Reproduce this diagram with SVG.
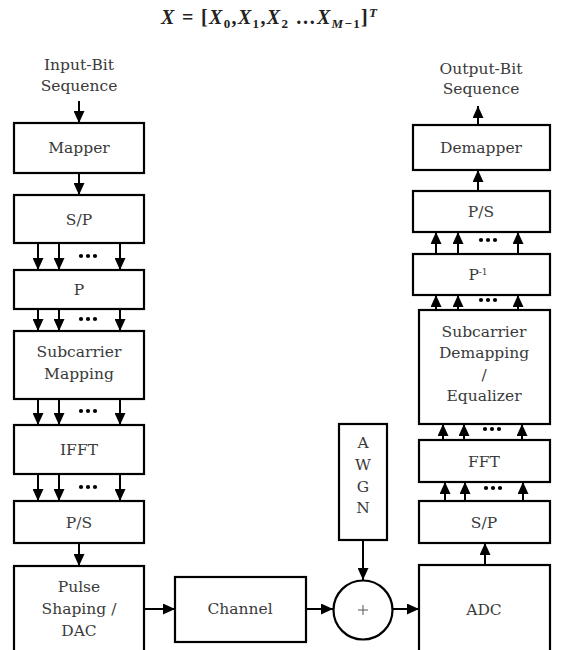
<svg xmlns="http://www.w3.org/2000/svg" width="568" height="650" viewBox="0 0 568 650">
<style>
.box{fill:#fff;stroke:#000;stroke-width:2.2}
.t{font-family:"DejaVu Serif","Liberation Serif",serif;font-size:15.5px;fill:#3a3a3a;text-anchor:middle}
.m{font-family:"Liberation Serif",serif;font-size:20px;fill:#222;font-weight:bold}
.c line{stroke:#000;stroke-width:2;marker-end:url(#ah)}
.dots circle{fill:#000}
</style>
<defs>
<marker id="ah" markerUnits="userSpaceOnUse" markerWidth="12" markerHeight="11" refX="12" refY="5.5" orient="auto">
<path d="M0,0 L12,5.5 L0,11 z" fill="#000"/>
</marker>
</defs>
<rect width="568" height="650" fill="#fff"/>
<g id="title">
<text class="m" x="161" y="24" textLength="216" lengthAdjust="spacing"><tspan font-style="italic">X</tspan> = [<tspan font-style="italic">X</tspan><tspan font-size="13" dy="4">0</tspan><tspan dy="-4">,</tspan><tspan font-style="italic">X</tspan><tspan font-size="13" dy="4">1</tspan><tspan dy="-4">,</tspan><tspan font-style="italic">X</tspan><tspan font-size="13" dy="4">2</tspan><tspan dy="-4"> …</tspan><tspan font-style="italic">X</tspan><tspan font-size="13" dy="4"><tspan font-style="italic">M</tspan>−1</tspan><tspan dy="-4">]</tspan><tspan font-size="13" font-style="italic" dy="-7">T</tspan></text>
</g>
<g id="input-label"><text class="t" x="79" y="70">Input-Bit</text><text class="t" x="79" y="91">Sequence</text></g>
<g id="output-label"><text class="t" x="481" y="74">Output-Bit</text><text class="t" x="481" y="94">Sequence</text></g>
<g id="mapper"><rect class="box" x="14" y="123" width="130" height="50"/><text class="t" x="79" y="153">Mapper</text></g>
<g id="sp-tx"><rect class="box" x="14" y="195" width="130" height="48"/><text class="t" x="79" y="225">S/P</text></g>
<g id="p"><rect class="box" x="14" y="270" width="130" height="39"/><text class="t" x="79" y="295">P</text></g>
<g id="subcarrier-mapping"><rect class="box" x="14" y="331" width="130" height="68"/><text class="t" x="79" y="357">Subcarrier</text><text class="t" x="79" y="379">Mapping</text></g>
<g id="ifft"><rect class="box" x="14" y="425" width="130" height="49"/><text class="t" x="79" y="455">IFFT</text></g>
<g id="ps-tx"><rect class="box" x="14" y="501" width="130" height="42"/><text class="t" x="79" y="528">P/S</text></g>
<g id="pulse-dac"><rect class="box" x="14" y="566" width="130" height="100"/><text class="t" x="79" y="592">Pulse</text><text class="t" x="79" y="614">Shaping /</text><text class="t" x="79" y="636">DAC</text></g>
<g id="channel"><rect class="box" x="175" y="577" width="131" height="65"/><text class="t" x="240" y="614">Channel</text></g>
<g id="awgn"><rect class="box" x="339" y="424" width="48" height="116"/><text class="t" x="363" y="448">A</text><text class="t" x="363" y="470">W</text><text class="t" x="363" y="492">G</text><text class="t" x="363" y="513">N</text></g>
<g id="adder"><circle cx="363" cy="610" r="29.5" fill="#fff" stroke="#000" stroke-width="2.2"/><path d="M358,610 H368 M363,605 V615" stroke="#555" stroke-width="1"/></g>
<g id="adc"><rect class="box" x="419" y="565" width="131" height="100"/><text class="t" x="484" y="615">ADC</text></g>
<g id="sp-rx"><rect class="box" x="419" y="501" width="131" height="42"/><text class="t" x="484" y="528">S/P</text></g>
<g id="fft"><rect class="box" x="419" y="440" width="131" height="42"/><text class="t" x="484" y="467">FFT</text></g>
<g id="subcarrier-demapping"><rect class="box" x="419" y="310" width="131" height="114"/><text class="t" x="484" y="337">Subcarrier</text><text class="t" x="484" y="358">Demapping</text><text class="t" x="484" y="380">/</text><text class="t" x="484" y="401">Equalizer</text></g>
<g id="p-inv"><rect class="box" x="413" y="254" width="137" height="41"/><text class="t" x="478" y="280">P<tspan font-size="9" dy="-5">-1</tspan></text></g>
<g id="ps-rx"><rect class="box" x="413" y="191" width="137" height="41"/><text class="t" x="481" y="217">P/S</text></g>
<g id="demapper"><rect class="box" x="413" y="125" width="137" height="45"/><text class="t" x="481" y="153">Demapper</text></g>
<g id="connectors" class="c">
<line x1="79" y1="101" x2="79" y2="123"/>
<line x1="79" y1="173" x2="79" y2="195"/>
<line x1="38" y1="243" x2="38" y2="270"/><line x1="59" y1="243" x2="59" y2="270"/><line x1="120" y1="243" x2="120" y2="270"/>
<line x1="38" y1="309" x2="38" y2="331"/><line x1="59" y1="309" x2="59" y2="331"/><line x1="120" y1="309" x2="120" y2="331"/>
<line x1="38" y1="399" x2="38" y2="425"/><line x1="59" y1="399" x2="59" y2="425"/><line x1="120" y1="399" x2="120" y2="425"/>
<line x1="38" y1="474" x2="38" y2="501"/><line x1="59" y1="474" x2="59" y2="501"/><line x1="120" y1="474" x2="120" y2="501"/>
<line x1="79" y1="543" x2="79" y2="566"/>
<line x1="144" y1="609" x2="175" y2="609"/>
<line x1="306" y1="609" x2="333" y2="609"/>
<line x1="363" y1="540" x2="363" y2="580"/>
<line x1="393" y1="609" x2="419" y2="609"/>
<line x1="485" y1="565" x2="485" y2="543"/>
<line x1="445" y1="501" x2="445" y2="482"/><line x1="465" y1="501" x2="465" y2="482"/><line x1="523" y1="501" x2="523" y2="482"/>
<line x1="443" y1="440" x2="443" y2="424"/><line x1="464" y1="440" x2="464" y2="424"/><line x1="522" y1="440" x2="522" y2="424"/>
<line x1="436" y1="310" x2="436" y2="295"/><line x1="458" y1="310" x2="458" y2="295"/><line x1="518" y1="310" x2="518" y2="295"/>
<line x1="436" y1="254" x2="436" y2="232"/><line x1="458" y1="254" x2="458" y2="232"/><line x1="518" y1="254" x2="518" y2="232"/>
<line x1="478" y1="191" x2="478" y2="170"/>
<line x1="478" y1="125" x2="478" y2="106"/>
</g>
<g class="dots">
<circle cx="81" cy="256" r="2.1"/><circle cx="88" cy="256" r="2.1"/><circle cx="95" cy="256" r="2.1"/>
<circle cx="81" cy="319" r="2.1"/><circle cx="88" cy="319" r="2.1"/><circle cx="95" cy="319" r="2.1"/>
<circle cx="81" cy="411" r="2.1"/><circle cx="88" cy="411" r="2.1"/><circle cx="95" cy="411" r="2.1"/>
<circle cx="81" cy="487" r="2.1"/><circle cx="88" cy="487" r="2.1"/><circle cx="95" cy="487" r="2.1"/>
<circle cx="481" cy="240" r="2.1"/><circle cx="488" cy="240" r="2.1"/><circle cx="495" cy="240" r="2.1"/>
<circle cx="481" cy="300" r="2.1"/><circle cx="488" cy="300" r="2.1"/><circle cx="495" cy="300" r="2.1"/>
<circle cx="485" cy="429" r="2.1"/><circle cx="492" cy="429" r="2.1"/><circle cx="499" cy="429" r="2.1"/>
<circle cx="486" cy="488" r="2.1"/><circle cx="493" cy="488" r="2.1"/><circle cx="500" cy="488" r="2.1"/>
</g>
</svg>
